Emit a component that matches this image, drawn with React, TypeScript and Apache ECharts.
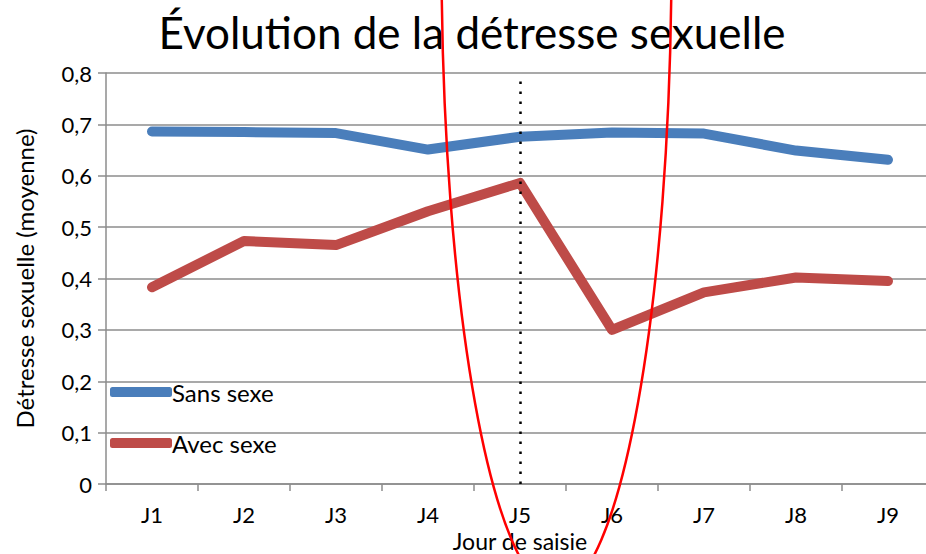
import React, { useEffect, useRef } from "react";
import * as echarts from "echarts";

const categories = ["J1", "J2", "J3", "J4", "J5", "J6", "J7", "J8", "J9"];
const sansSexe = [0.686, 0.685, 0.683, 0.651, 0.676, 0.684, 0.682, 0.649, 0.631];
const avecSexe = [0.383, 0.473, 0.465, 0.531, 0.586, 0.3, 0.373, 0.402, 0.395];
const seriesNames = ["Sans sexe", "Avec sexe"];
const yTicks = { min: 0, max: 0.8, interval: 0.1 };

const FONT = "Lato, 'Open Sans', sans-serif";

export default function App() {
  const ref = useRef<HTMLDivElement>(null);
  useEffect(() => {
    if (!ref.current) return;
    const chart = echarts.init(ref.current, null, { renderer: "svg" });
    const gridColor = "#8c8c8c";
    chart.setOption({
      animation: false,
      backgroundColor: "#ffffff",
      textStyle: { fontFamily: FONT },
      title: {
        text: "Évolution de la détresse sexuelle",
        left: 467,
        textAlign: "center",
        top: 5,
        textStyle: { fontFamily: FONT, fontSize: 44, fontWeight: "normal", color: "#000" },
      },
      legend: {
        orient: "vertical",
        left: 110,
        top: 380,
        padding: 0,
        itemWidth: 62,
        itemHeight: 10,
        itemGap: 27,
        icon: "roundRect",
        data: seriesNames,
        textStyle: {
          fontFamily: FONT,
          fontSize: 24,
          lineHeight: 24,
          color: "#000",
          padding: [0, 0, 0, -5],
        },
      },
      grid: {
        left: 106,
        top: 73,
        right: -8,
        bottom: 70,
        containLabel: false,
        outerBoundsMode: "none",
      },
      xAxis: {
        type: "category",
        data: categories,
        boundaryGap: true,
        axisLine: { lineStyle: { color: gridColor, width: 1.5 } },
        axisTick: { show: true, length: 7, lineStyle: { color: gridColor, width: 1.5 } },
        axisLabel: { color: "#000", fontSize: 22, lineHeight: 22, margin: 19, fontFamily: FONT },
        name: "Jour de saisie",
        nameLocation: "middle",
        nameGap: 45,
        nameMoveOverlap: false,
        nameTextStyle: { color: "#000", fontSize: 23, lineHeight: 23, fontFamily: FONT },
      },
      yAxis: {
        type: "value",
        min: yTicks.min,
        max: yTicks.max,
        interval: yTicks.interval,
        axisLine: { show: true, lineStyle: { color: gridColor, width: 1.5 } },
        axisTick: { show: true, length: 8, lineStyle: { color: gridColor, width: 1.5 } },
        splitLine: { lineStyle: { color: gridColor, width: 1.5 } },
        axisLabel: {
          color: "#000",
          fontSize: 22,
          margin: 14,
          fontFamily: FONT,
          formatter: (v: number) => (Math.round(v * 10) / 10).toString().replace(".", ","),
        },
        name: "Détresse sexuelle (moyenne)",
        nameLocation: "middle",
        nameGap: 70,
        nameMoveOverlap: false,
        nameTextStyle: { color: "#000", fontSize: 24, fontFamily: FONT },
      },
      series: [
        {
          name: seriesNames[0],
          type: "line",
          data: sansSexe,
          symbol: "none",
          color: "#4a7ebb",
          lineStyle: { width: 10, color: "#4a7ebb", cap: "round", join: "round" },
          markLine: {
            silent: true,
            symbol: "none",
            label: { show: false },
            lineStyle: { type: [2.5, 7.5], color: "#000", width: 2.5 },
            data: [[{ coord: ["J5", 0] }, { coord: ["J5", 0.785] }]],
          },
        },
        {
          name: seriesNames[1],
          type: "line",
          data: avecSexe,
          symbol: "none",
          color: "#be4b48",
          lineStyle: { width: 10, color: "#be4b48", cap: "round", join: "round" },
        },
      ],
      graphic: [
        {
          type: "ellipse",
          z: 100,
          shape: { cx: 556.5, cy: -46, rx: 115, ry: 636 },
          style: { fill: "none", stroke: "#ff0000", lineWidth: 2.5 },
        },
      ],
    });
    return () => chart.dispose();
  }, []);
  return (
    <div
      ref={ref}
      style={{ position: "absolute", left: 0, top: 0, width: 926, height: 554, background: "#fff" }}
    />
  );
}
